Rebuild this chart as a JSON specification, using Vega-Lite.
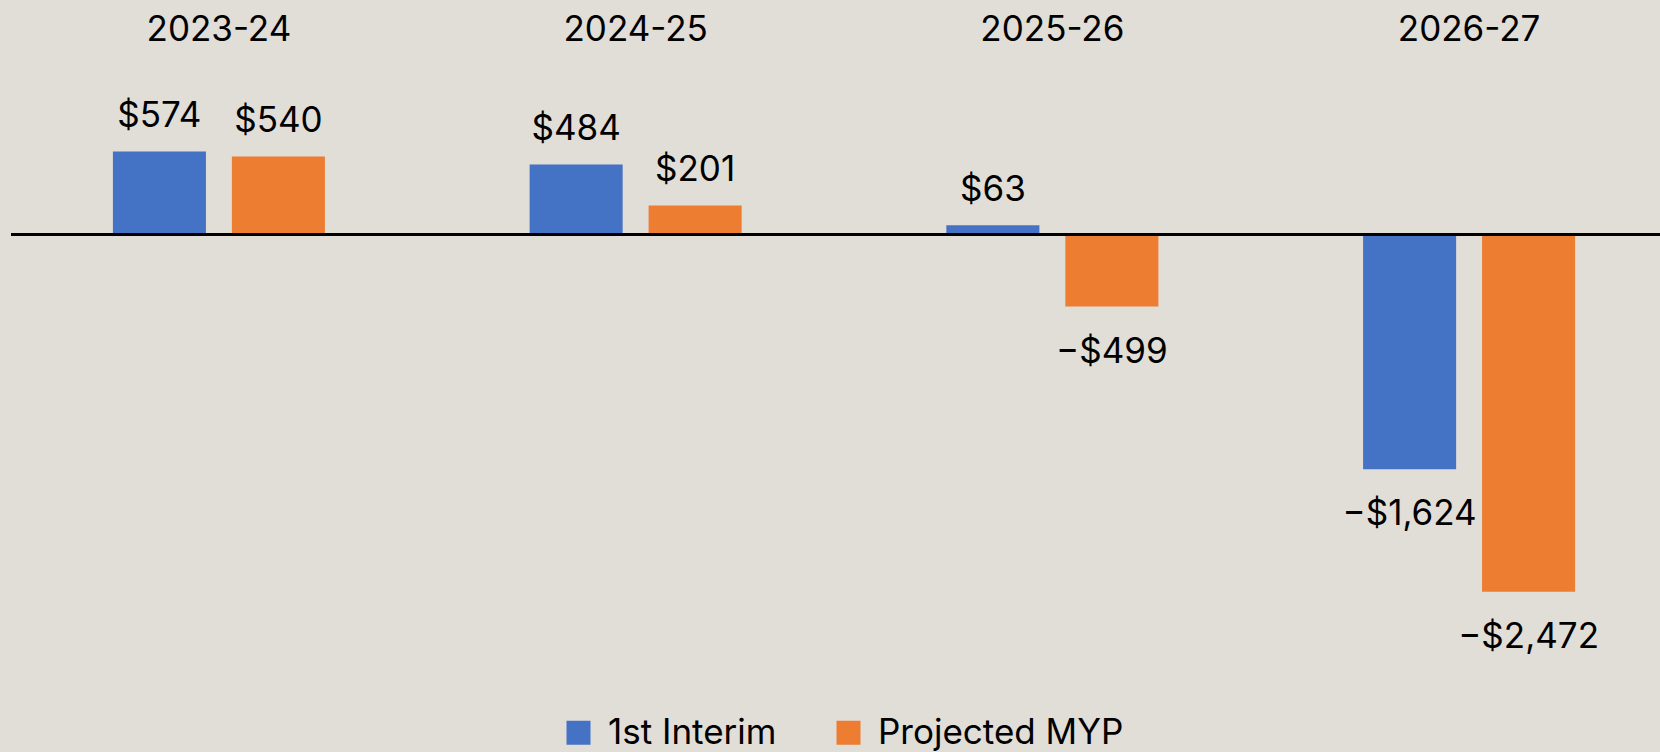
{
  "$schema": "https://vega.github.io/schema/vega-lite/v6.json",
  "autosize": "none",
  "width": 1649,
  "height": 607,
  "padding": {"left": 11, "top": 61, "right": 0, "bottom": 84},
  "background": "#E1DDD7",
  "config": {
    "view": {"stroke": null},
    "font": "Inter",
    "text": {"font": "Inter"}
  },
  "data": {
    "values": [
      {"year": "2023-24", "series": "1st Interim", "value": 574},
      {"year": "2023-24", "series": "Projected MYP", "value": 540},
      {"year": "2024-25", "series": "1st Interim", "value": 484},
      {"year": "2024-25", "series": "Projected MYP", "value": 201},
      {"year": "2025-26", "series": "1st Interim", "value": 63},
      {"year": "2025-26", "series": "Projected MYP", "value": -499},
      {"year": "2026-27", "series": "1st Interim", "value": -1624},
      {"year": "2026-27", "series": "Projected MYP", "value": -2472}
    ]
  },
  "encoding": {
    "x": {
      "field": "year",
      "type": "nominal",
      "sort": null,
      "scale": {"paddingInner": 0.2, "paddingOuter": 0.0785, "align": 0.63},
      "axis": {
        "orient": "top",
        "title": null,
        "domain": false,
        "ticks": false,
        "labelAngle": 0,
        "labelFontSize": 35,
        "labelColor": "#000000",
        "labelBaseline": "alphabetic",
        "labelPadding": 21,
        "labelFont": "Inter"
      }
    },
    "xOffset": {
      "field": "series",
      "type": "nominal",
      "scale": {"paddingInner": 0.218, "paddingOuter": 0.51}
    },
    "y": {
      "field": "value",
      "type": "quantitative",
      "scale": {"domain": [-3000, 1200], "nice": false, "zero": false},
      "axis": null
    }
  },
  "layer": [
    {
      "mark": {"type": "bar"},
      "encoding": {
        "y2": {"datum": 0},
        "color": {
          "field": "series",
          "type": "nominal",
          "scale": {"domain": ["1st Interim", "Projected MYP"], "range": ["#4472C4", "#ED7D31"]},
          "legend": {
            "orient": "none",
            "direction": "horizontal",
            "legendX": 550,
            "legendY": 654,
            "title": null,
            "symbolType": "square",
            "symbolSize": 576,
            "symbolStrokeWidth": 0,
            "symbolOpacity": 1,
            "labelFontSize": 35,
            "labelFont": "Inter",
            "labelColor": "#000000",
            "labelOffset": 12,
            "labelLimit": 0,
            "columnPadding": 54
          }
        }
      }
    },
    {
      "transform": [{"filter": "datum.value >= 0"}],
      "mark": {"type": "text", "baseline": "alphabetic", "dy": -24, "fontSize": 35, "color": "#000000"},
      "encoding": {
        "text": {"field": "value", "type": "quantitative", "format": "$,.0f"}
      }
    },
    {
      "transform": [{"filter": "datum.value < 0"}],
      "mark": {"type": "text", "baseline": "alphabetic", "dy": 56, "fontSize": 35, "color": "#000000"},
      "encoding": {
        "text": {"field": "value", "type": "quantitative", "format": "$,.0f"}
      }
    },
    {
      "mark": {"type": "rule", "color": "#000000", "strokeWidth": 2},
      "encoding": {
        "y": {"datum": 0},
        "x": null,
        "xOffset": null
      }
    }
  ]
}
